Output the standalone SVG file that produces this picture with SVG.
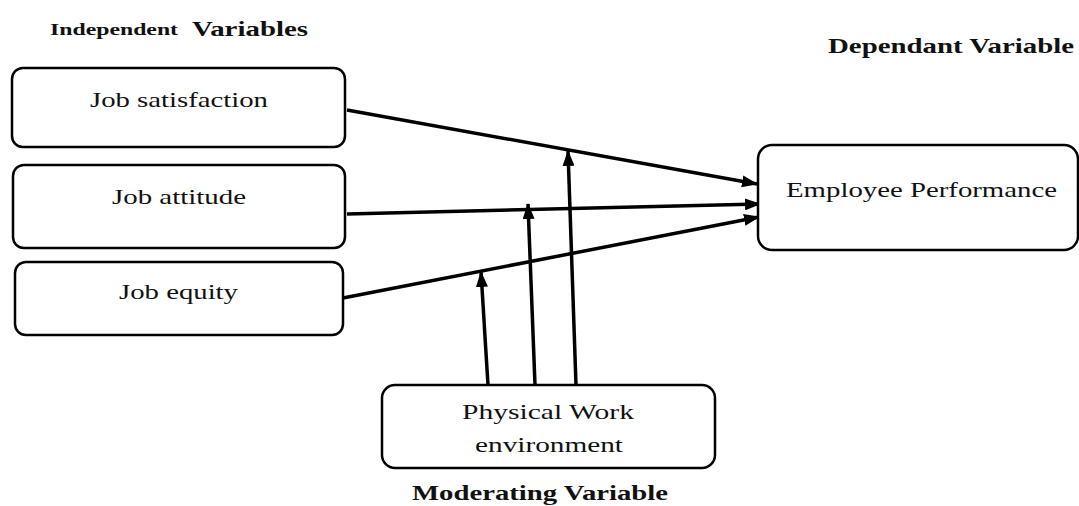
<svg xmlns="http://www.w3.org/2000/svg" width="1079" height="506" viewBox="0 0 1079 506">
<style>
.box{fill:#fff;stroke:#000;stroke-width:2.5}
.con{stroke:#000;stroke-width:3.5;fill:none;marker-end:url(#ah)}
</style>
<defs>
<marker id="ah" markerUnits="userSpaceOnUse" markerWidth="16" markerHeight="12" refX="15" refY="6" orient="auto">
<path d="M0,0 L16,6 L0,12 z" fill="#000"/>
</marker>
</defs>
<rect width="1079" height="506" fill="#fff"/>
<g font-family="Liberation Serif, serif" font-weight="bold" fill="#111">
<text x="50" y="35" font-size="17" textLength="128" lengthAdjust="spacingAndGlyphs">Independent</text>
<text x="192" y="36" font-size="21" textLength="116" lengthAdjust="spacingAndGlyphs">Variables</text>
<text x="828" y="53" font-size="21" textLength="246" lengthAdjust="spacingAndGlyphs">Dependant Variable</text>
<text x="412" y="500" font-size="21" textLength="256" lengthAdjust="spacingAndGlyphs">Moderating Variable</text>
</g>
<g id="connectors">
<line class="con" x1="347" y1="110" x2="757" y2="184"/>
<line class="con" x1="347" y1="214" x2="760" y2="204"/>
<line class="con" x1="343" y1="298" x2="759" y2="217"/>
<line class="con" x1="488" y1="385" x2="481" y2="272"/>
<line class="con" x1="535" y1="385" x2="528" y2="204"/>
<line class="con" x1="576" y1="385" x2="568" y2="151"/>
</g>
<g font-family="Liberation Serif, serif" font-size="22" fill="#111">
<g id="job-satisfaction">
<rect class="box" x="12" y="68" width="333" height="79" rx="11"/>
<text x="90" y="107" textLength="178" lengthAdjust="spacingAndGlyphs">Job satisfaction</text>
</g>
<g id="job-attitude">
<rect class="box" x="13" y="165" width="332" height="83" rx="11"/>
<text x="112" y="204" textLength="134" lengthAdjust="spacingAndGlyphs">Job attitude</text>
</g>
<g id="job-equity">
<rect class="box" x="15" y="262" width="328" height="73" rx="11"/>
<text x="119" y="299" textLength="119" lengthAdjust="spacingAndGlyphs">Job equity</text>
</g>
<g id="employee-performance">
<rect class="box" x="758" y="145" width="320" height="105" rx="14"/>
<text x="786" y="197" textLength="271" lengthAdjust="spacingAndGlyphs">Employee Performance</text>
</g>
<g id="physical-work-environment">
<rect class="box" x="382" y="385" width="333" height="83" rx="13"/>
<text x="462" y="419" textLength="172" lengthAdjust="spacingAndGlyphs">Physical Work</text>
<text x="475" y="452" textLength="148" lengthAdjust="spacingAndGlyphs">environment</text>
</g>
</g>
</svg>
